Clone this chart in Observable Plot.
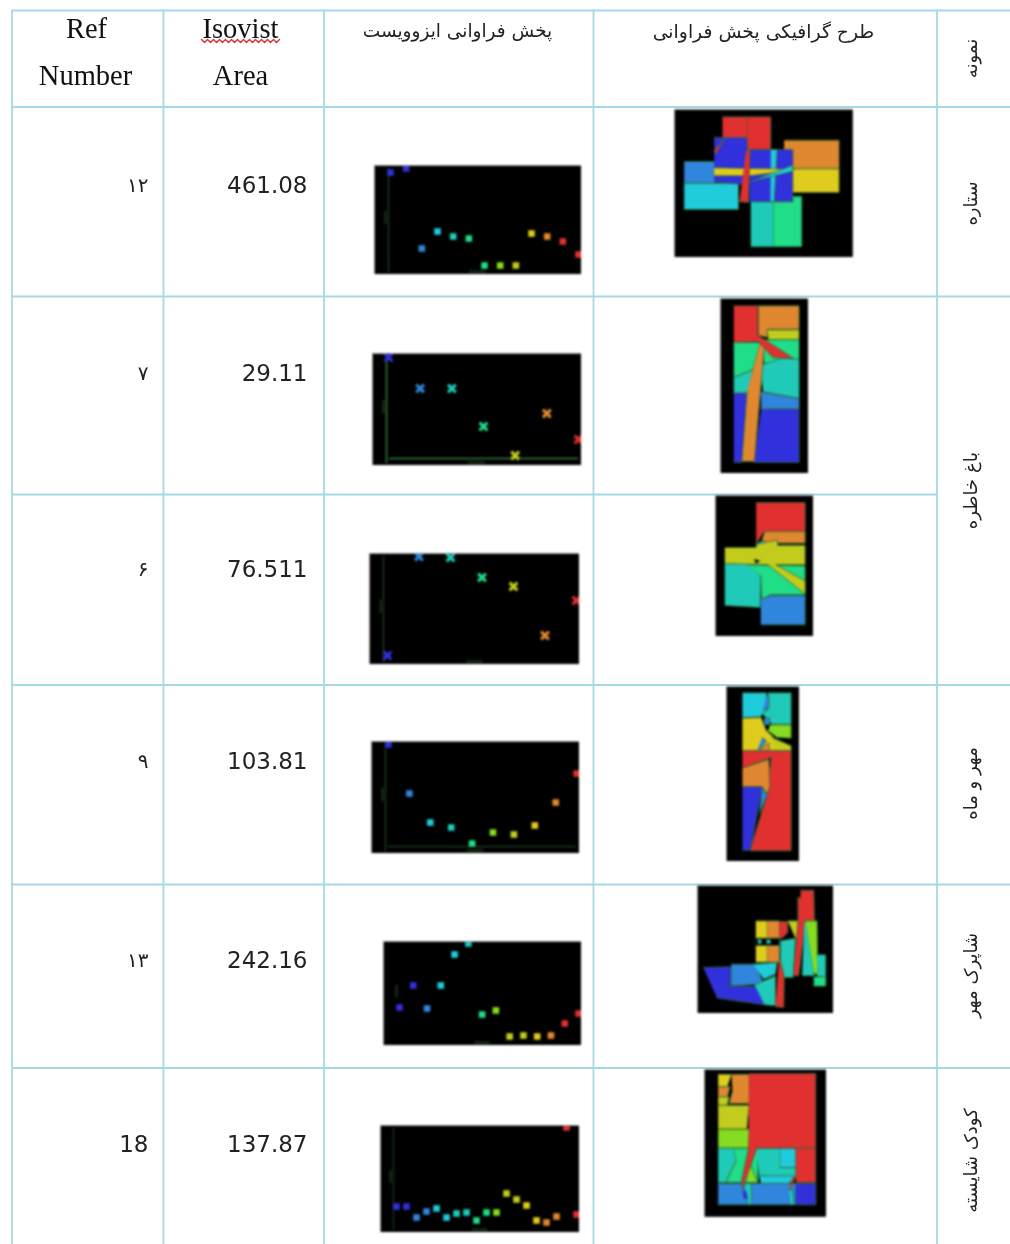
<!DOCTYPE html>
<html lang="fa">
<head>
<meta charset="utf-8">
<script src="https://cdn.jsdelivr.net/npm/d3@7"></script>
<script src="https://cdn.jsdelivr.net/npm/@observablehq/plot@0.6"></script>
<style>
html,body{margin:0;padding:0;background:#fff}
#page{position:relative;width:1010px;height:1244px;overflow:hidden;background:#fff}
#page svg{position:absolute;max-width:none}
#page svg.tbl{filter:blur(.5px)}
#page svg.pic{filter:blur(.85px)}
</style>
</head>
<body>
<div id="page"></div>
<script>
// ---------- table content ----------
const refNumbers = ["۱۲","۷","۶","۹","۱۳","18"];
const isovistAreas = ["461.08","29.11","76.511","103.81","242.16","137.87"];
const headerLatinRef = ["Ref","Number"];
const headerLatinArea = ["Isovist","Area"];
const headerScatter = "پخش فراوانی ایزوویست";
const headerPlan = "طرح گرافیکی پخش فراوانی";
const sampleHeader = "نمونه";
const samples = ["ستاره","باغ خاطره","مهر و ماه","شاپرک مهر","کودک شایسته"];

// ---------- frequency series (bin order, height) ----------
const freq1 = [102,106,26,43,38,36,9,9,9,41,38,33,20];
const tone1 = ["blue","blue","azure","cyan","teal","mint","mint","lime","olive","yellow","orange","red","red"];
const freq2 = [108,77,77,39,10,52,26];
const tone2 = ["blue","azure","teal","mint","olive","orange","red"];
const freq3 = [9,108,107,87,78,29,64];
const tone3 = ["blue","azure","teal","mint","olive","orange","red"];
const freq4 = [109,60,31,26,10,21,19,28,51,80];
const tone4 = ["blue","azure","cyan","teal","mint","lime","olive","yellow","orange","red"];
const freq5 = [38,60,37,60,91,102,31,35,9,10,9,10,22,32];
const tone5 = ["blue","blue","azure","cyan","cyan","teal","mint","lime","olive","olive","yellow","orange","red","red"];
const freq6 = [26,26,15,21,24,15,19,20,12,20,20,39,33,27,12,10,16,105,18];
const tone6 = ["blue","blue","azure","azure","cyan","cyan","teal","teal","mint","mint","lime","olive","olive","yellow","yellow","orange","orange","red","red"];

// ---------- frequency plans: [tone, ring] in drawing order ----------
const plan1 = [
 ["red",[[367,350],[441,350],[441,450],[367,450]]],
 ["red",[[441,350],[512,350],[512,450],[441,450]]],
 ["orange",[[552,420],[717,420],[717,506],[552,506]]],
 ["yellow",[[552,506],[717,506],[717,577],[552,577]]],
 ["azure",[[252,484],[345,484],[345,549],[252,549]]],
 ["cyan",[[252,549],[415,549],[415,628],[252,628]]],
 ["blue",[[342,412],[440,412],[445,505],[342,505]]],
 ["blue",[[342,525],[440,525],[432,553],[342,545]]],
 ["teal",[[452,604],[520,604],[520,740],[452,740]]],
 ["mint",[[520,588],[605,588],[605,740],[520,740]]],
 ["blue",[[448,448],[578,448],[578,605],[448,605]]],
 ["cyan",[[512,448],[531,448],[522,605],[511,605]]],
 ["yellow",[[342,503],[580,507],[578,510],[450,527],[342,527]]],
 ["cyan",[[450,545],[578,495],[578,513],[470,540]]],
 ["red",[[438,450],[450,450],[445,607],[418,605]]],
 ["red",[[343,450],[375,412],[345,465]]]
];
const plan2 = [
 ["orange",[[232,30],[354,30],[354,100],[258,100],[258,125],[232,118]]],
 ["olive",[[258,102],[354,102],[354,132],[262,132]]],
 ["mint",[[158,140],[238,140],[215,222],[158,245]]],
 ["mint",[[245,132],[354,132],[354,192],[300,190],[250,208]]],
 ["teal",[[158,245],[215,222],[200,292],[158,292]]],
 ["teal",[[238,208],[300,188],[354,190],[354,308],[246,288]]],
 ["azure",[[240,288],[354,308],[354,340],[240,340]]],
 ["blue",[[158,292],[218,292],[182,500],[158,500]]],
 ["blue",[[240,340],[354,340],[354,500],[218,500]]],
 ["orange",[[236,145],[250,150],[220,497],[182,497],[198,285]]],
 ["red",[[158,30],[230,30],[230,118],[338,188],[275,185],[232,138],[158,140]]]
];
const plan3 = [
 ["red",[[226,35],[373,35],[373,122],[250,122],[226,158]]],
 ["orange",[[252,122],[373,122],[373,157],[240,157]]],
 ["teal",[[226,158],[252,148],[240,172],[226,172]]],
 ["teal",[[132,218],[200,218],[240,255],[238,350],[132,344]]],
 ["mint",[[200,222],[373,225],[373,312],[270,312],[242,325],[240,255]]],
 ["olive",[[132,170],[225,170],[230,160],[290,148],[290,163],[373,163],[373,222],[285,222],[373,270],[373,310],[262,222],[132,218]]],
 ["azure",[[240,325],[270,314],[373,314],[373,402],[240,402]]],
 ["black",[[220,205],[238,210],[225,218]]]
];
const plan4 = [
 ["cyan",[[186,36],[258,36],[258,85],[240,108],[186,110]]],
 ["teal",[[262,36],[332,36],[332,130],[275,130],[245,98],[262,85]]],
 ["azure",[[250,112],[268,112],[268,132],[252,132]]],
 ["azure",[[258,45],[266,45],[265,85],[248,85]]],
 ["yellow",[[186,112],[242,110],[258,150],[280,170],[280,210],[186,210]]],
 ["lime",[[270,132],[332,132],[332,172],[290,170],[262,150]]],
 ["olive",[[275,170],[332,195],[332,210],[278,210]]],
 ["azure",[[245,170],[258,180],[240,205],[232,205]]],
 ["orange",[[240,207],[265,185],[268,208]]],
 ["red",[[186,210],[332,210],[332,510],[208,510],[260,340],[272,230],[186,262]]],
 ["orange",[[186,262],[265,235],[268,315],[260,340],[245,318],[186,318]]],
 ["blue",[[186,318],[245,318],[210,508],[186,508]]],
 ["azure",[[245,320],[260,342],[236,400]]]
];
const plan5 = [
 ["blue",[[68,260],[150,258],[150,312],[110,352]]],
 ["blue",[[135,315],[252,318],[252,372],[112,352]]],
 ["azure",[[152,250],[225,250],[250,310],[152,315]]],
 ["cyan",[[218,250],[290,245],[285,280],[250,295]]],
 ["teal",[[222,312],[285,285],[285,375],[252,372]]],
 ["red",[[295,240],[312,240],[310,380],[285,378]]],
 ["yellow",[[226,120],[260,120],[260,244],[226,244]]],
 ["orange",[[260,120],[297,120],[297,244],[260,244]]],
 ["black",[[226,172],[297,172],[297,194],[226,194]]],
 ["cyan",[[232,177],[243,177],[243,188],[232,188]]],
 ["cyan",[[258,177],[270,177],[270,188],[258,188]]],
 ["red",[[297,122],[322,122],[322,155],[305,172],[297,172]]],
 ["teal",[[300,180],[345,172],[338,290],[312,290],[300,240]]],
 ["olive",[[322,120],[360,120],[352,170],[345,172]]],
 ["red",[[360,28],[400,28],[402,120],[375,120],[355,285],[338,285],[352,120],[352,50],[360,50]]],
 ["teal",[[372,120],[378,130],[402,285],[365,285]]],
 ["lime",[[375,120],[410,120],[412,285],[400,275]]],
 ["teal",[[408,222],[436,222],[436,288],[412,288]]],
 ["mint",[[400,288],[436,288],[436,316],[400,316]]]
];
const plan6 = [
 ["yellow",[[112,40],[152,40],[140,78],[112,78]]],
 ["orange",[[112,78],[148,78],[140,108],[112,108]]],
 ["orange",[[152,40],[205,40],[205,128],[145,128],[155,90]]],
 ["olive",[[112,108],[145,108],[140,133],[112,133]]],
 ["olive",[[112,133],[205,133],[198,205],[112,205]]],
 ["lime",[[112,205],[205,205],[203,262],[112,262]]],
 ["teal",[[112,262],[160,262],[165,300],[135,365],[112,365]]],
 ["mint",[[160,262],[230,262],[232,365],[135,365],[165,300]]],
 ["teal",[[225,262],[298,262],[298,320],[345,320],[345,350],[235,345]]],
 ["cyan",[[298,262],[345,262],[345,320],[298,320]]],
 ["red",[[345,262],[405,262],[405,365],[345,365]]],
 ["cyan",[[235,345],[345,345],[325,368],[240,368]]],
 ["lime",[[205,300],[230,365],[200,365]]],
 ["azure",[[112,368],[345,368],[345,432],[112,432]]],
 ["blue",[[345,368],[405,368],[405,432],[345,432]]],
 ["blue",[[185,388],[205,395],[205,415],[188,412]]],
 ["teal",[[192,368],[212,368],[212,432],[205,432]]],
 ["teal",[[325,385],[335,385],[340,432],[330,432]]],
 ["red",[[335,350],[343,350],[328,388],[325,385]]],
 ["red",[[205,38],[405,38],[405,262],[228,262],[185,385],[182,360],[203,262]]]
];

// ---------- colour table ----------
const toneNames = ["blue","azure","cyan","teal","mint","lime","olive","yellow","orange","red","black"];
const toneColors = ["#3030dc","#3085dc","#20cbdc","#1fcbb8","#20dd88","#85dc20","#c3cc1c","#e0cc1c","#e08830","#e03030","#000000"];
const toneScale = {type:"ordinal",domain:toneNames,range:toneColors};

// ---------- layout ----------
const colEdges = [11.5,163,323.5,593,936.5];
const rowEdges = [10,106.5,296,494,684.5,884,1067.5];
const fullRows = [10,106.5,296,684.5,884,1067.5];
const rowCentres = [185,373,569,761,960,1144];
const sampleCentres = [203,490,783,975,1160];
const squiggleX = [201,204,207,210,213,216,219,222,225,228,231,234,237,240,243,246,249,252,255,258,261,264,267,270,273,276,279];
const squiggleY = [39,42,39,42,39,42,39,42,39,42,39,42,39,42,39,42,39,42,39,42,39,42,39,42,39,42,39];
const grid = "#a6d8e6";

const page = document.getElementById("page");

// table grid and texts
const serif = "'Liberation Serif',serif";
const sans = "'DejaVu Sans',sans-serif";
page.append(Plot.plot({
  width:1010,height:1244,margin:0,className:"tbl",
  style:{left:"0px",top:"0px",background:"transparent"},
  x:{domain:[0,1010],range:[0,1010],axis:null},
  y:{domain:[0,1244],range:[0,1244],axis:null},
  marks:[
    Plot.ruleY(fullRows,{x1:colEdges[0],x2:1010,stroke:grid,strokeWidth:1.8}),
    Plot.ruleY([rowEdges[3]],{x1:colEdges[0],x2:colEdges[4],stroke:grid,strokeWidth:1.8}),
    Plot.ruleX(colEdges,{y1:10,y2:1244,stroke:grid,strokeWidth:1.8}),
    Plot.text(headerLatinRef,{x:[86,85],y:[28,75],text:d=>d,fontFamily:serif,fontSize:28.5,fill:"#111"}),
    Plot.text(headerLatinArea,{x:[240,240],y:[28,75],text:d=>d,fontFamily:serif,fontSize:28.5,fill:"#111"}),
    Plot.line(squiggleX.map((x,i)=>[x,squiggleY[i]]),{x:d=>d[0],y:d=>d[1],stroke:"#d83030",strokeWidth:1.4}),
    Plot.text([headerScatter],{x:[457],y:[31],text:d=>d,fontFamily:sans,fontSize:18.5,fill:"#222"}),
    Plot.text([headerPlan],{x:[763],y:[31],text:d=>d,fontFamily:sans,fontSize:18.8,fill:"#222"}),
    Plot.text(refNumbers,{x:()=>148,y:(d,i)=>rowCentres[i],text:d=>d,textAnchor:"end",fontFamily:sans,fontSize:(d,i)=>i===5?23:20,fill:"#222"}),
    Plot.text(isovistAreas,{x:()=>307,y:(d,i)=>rowCentres[i],text:d=>d,textAnchor:"end",fontFamily:sans,fontSize:23,fill:"#222"}),
    Plot.text([sampleHeader],{x:[971],y:[58],text:d=>d,rotate:-90,fontFamily:sans,fontSize:18,fill:"#222"}),
    Plot.text(samples,{x:()=>971,y:(d,i)=>sampleCentres[i],text:d=>d,rotate:-90,fontFamily:sans,fontSize:18,fill:"#222"})
  ]
}));

// frequency scatter panels
const scatterPanels = [
 {freq:freq1,tone:tone1,left:374,top:165,w:207,h:109,x0:16,dx:15.67,sym:"square",axis:"#1d3a1d",ax:14,vert:true,horiz:false},
 {freq:freq2,tone:tone2,left:372,top:353,w:209,h:112,x0:16,dx:31.67,sym:"times",axis:"#3a7a3a",ax:14,vert:true,horiz:true},
 {freq:freq3,tone:tone3,left:369,top:553,w:210,h:111,x0:18,dx:31.5,sym:"times",axis:"#1d3a1d",ax:14,vert:true,horiz:false},
 {freq:freq4,tone:tone4,left:371,top:741,w:208,h:112,x0:17,dx:20.9,sym:"square",axis:"#1d3a1d",ax:14,vert:true,horiz:true},
 {freq:freq5,tone:tone5,left:383,top:941,w:198,h:104,x0:16,dx:13.77,sym:"square",axis:"#14301a",ax:16,vert:false,horiz:false},
 {freq:freq6,tone:tone6,left:380,top:1125,w:199,h:107,x0:16,dx:10,sym:"square",axis:"#14301a",ax:13,vert:true,horiz:false}
];
for (const p of scatterPanels) {
  const rows = p.freq.map((v,i)=>({bin:i,v,tone:p.tone[i]}));
  const binAt = px => (px-p.x0)/p.dx;
  const isX = p.sym==="times";
  const toneCh = {value:"tone",scale:"color"};
  page.append(Plot.plot({
    width:p.w,height:p.h,margin:0,className:"pic",
    style:{left:p.left+"px",top:p.top+"px",background:"#000"},
    x:{domain:[binAt(0),binAt(p.w)],range:[0,p.w],axis:null},
    y:{domain:[p.h,0],range:[0,p.h],axis:null},
    color:toneScale,
    marks:[
      p.vert?Plot.ruleX([binAt(p.ax)],{y1:2,y2:p.h-3,stroke:p.axis,strokeWidth:1.5}):null,
      p.horiz?Plot.ruleY([7],{x1:binAt(p.ax+3),x2:binAt(p.w-3),stroke:p.axis,strokeWidth:1.4}):null,
      Plot.ruleX([binAt(p.ax-3)],{y1:p.h*.46,y2:p.h*.58,stroke:"#1d3a1d",strokeWidth:1.8}),
      Plot.ruleY([3],{x1:binAt(p.w*.46),x2:binAt(p.w*.54),stroke:"#1d3a1d",strokeWidth:1.8}),
      Plot.dot(rows,{x:"bin",y:"v",symbol:()=>p.sym,r:isX?3.6:3.7,
        fill:isX?"none":toneCh,stroke:isX?toneCh:"none",strokeWidth:3.2,clip:"frame"}),
      Plot.frame({stroke:"#8c8c8c",strokeWidth:1})
    ]
  }));
}

// frequency plan panels (domain = picture frame edges in read units, scale 1/3 px)
const planPanels = [
 {plan:plan1,left:674,top:109,x:[223,759],y:[328,772]},
 {plan:plan2,left:719.5,top:297.5,x:[118,384],y:[8,535]},
 {plan:plan3,left:714.5,top:495,x:[104,398],y:[14,438]},
 {plan:plan4,left:726,top:685.5,x:[138,358],y:[17,543]},
 {plan:plan5,left:697,top:884.5,x:[51,459],y:[14,400]},
 {plan:plan6,left:703.5,top:1069,x:[71,438],y:[26,469]}
];
for (const p of planPanels) {
  const w = (p.x[1]-p.x[0])/3, h = (p.y[1]-p.y[0])/3;
  const rows = p.plan.flatMap(([tone,ring],k)=>ring.map(([x,y])=>({k,tone,x,y})));
  page.append(Plot.plot({
    width:w,height:h,margin:0,className:"pic",
    style:{left:p.left+"px",top:p.top+"px",background:"#000"},
    x:{domain:p.x,range:[0,w],axis:null},
    y:{domain:p.y,range:[0,h],axis:null},
    color:toneScale,
    marks:[
      Plot.line(rows,{x:"x",y:"y",z:"k",fill:{value:"tone",scale:"color"},stroke:"#2f6a35",strokeWidth:.8}),
      Plot.frame({stroke:"#8c8c8c",strokeWidth:1})
    ]
  }));
}
</script>
</body>
</html>
